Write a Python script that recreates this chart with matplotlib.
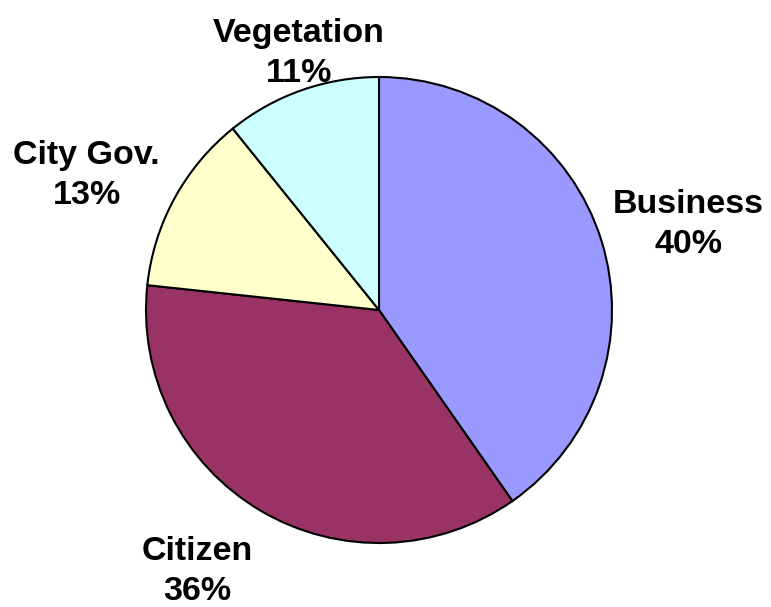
import matplotlib.pyplot as plt

categories = ['Business', 'Citizen', 'City Gov.', 'Vegetation']
shares = [40.3, 36.4, 12.5, 10.8]
pct_labels = ['40%', '36%', '13%', '11%']
colors = ['#9999FF', '#993366', '#FFFFCC', '#CCFFFF']

# label anchors in pie-radius units: centre x, baseline y of the percent line
label_x = [1.328, -0.780, -1.255, -0.343]
label_y = [0.245, -1.245, 0.455, 0.979]
line_gap = 0.172

plt.rcParams['font.family'] = ['Liberation Sans', 'DejaVu Sans']

W, H = 771, 607
fig = plt.figure(figsize=(W / 100, H / 100), dpi=100)
cx, cy, r = 379, 310, 233
ax = fig.add_axes([(cx - r) / W, (H - cy - r) / H, 2 * r / W, 2 * r / H])

wedges, _ = ax.pie(shares, colors=colors, startangle=90, counterclock=False,
                   radius=1.0, wedgeprops=dict(edgecolor='black', linewidth=1.5))
ax.set_xlim(-1, 1)
ax.set_ylim(-1, 1)
ax.set_aspect('auto')
ax.axis('off')

for name, pct, x, y in zip(categories, pct_labels, label_x, label_y):
    ax.text(x, y + line_gap, name, ha='center', va='baseline',
            fontsize=24.5, fontweight='bold', clip_on=False)
    ax.text(x, y, pct, ha='center', va='baseline',
            fontsize=24.5, fontweight='bold', clip_on=False)

fig.savefig('out.png', dpi=100)
